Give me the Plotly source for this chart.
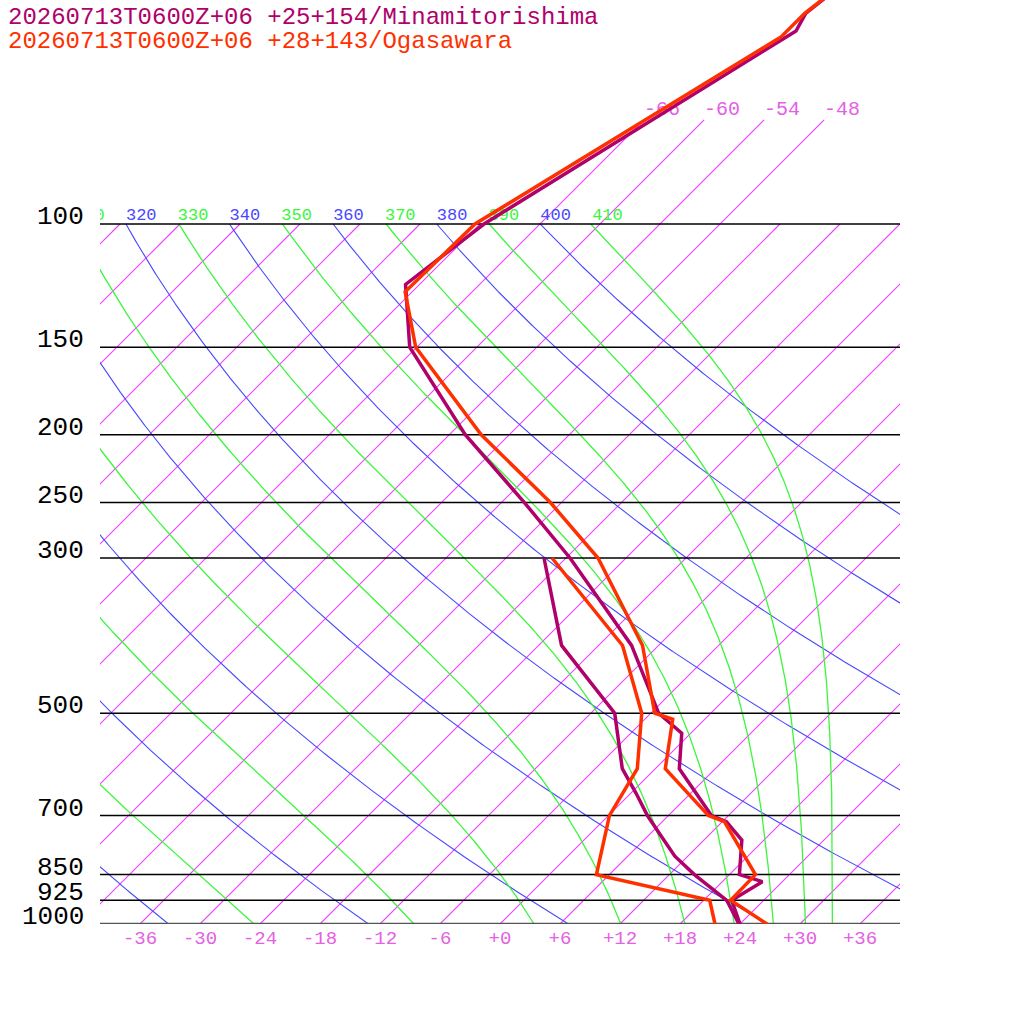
import numpy as np
import plotly.graph_objects as go

# ---------------- data ----------------
title_mina = "20260713T0600Z+06 +25+154/Minamitorishima"
title_oga = "20260713T0600Z+06 +28+143/Ogasawara"

mina_p = [1000, 925, 870, 850, 759, 714, 700, 600, 534, 500, 400, 300, 250, 200, 150, 122, 100, 53, 50, 40]
mina_t = [24.0, 20.8, 22.0, 19.0, 15.8, 12.4, 10.3, 2.4, -0.9, -5.2, -14.7, -29.6, -39.7, -52.4, -66.7, -73.4, -71.6, -59.7, -60.5, -58.7]
mina_td_p = [1000, 925, 850, 800, 750, 700, 650, 600, 500, 400, 300]
mina_td = [23.9, 20.3, 14.5, 10.7, 7.4, 3.9, 0.5, -3.3, -9.6, -21.7, -32.2]

oga_p = [1000, 925, 850, 714, 700, 600, 510, 500, 400, 300, 250, 200, 150, 125, 100, 54, 50, 40]
oga_t = [26.7, 20.7, 20.6, 12.2, 10.0, 1.0, -3.2, -5.6, -13.6, -26.8, -37.1, -50.8, -66.1, -72.7, -72.5, -60.6, -60.6, -58.7]
oga_td_p = [1000, 925, 850, 700, 600, 500, 400, 300]
oga_td = [21.5, 18.6, 4.7, 0.1, -1.8, -6.9, -15.6, -31.4]

isobars = [100, 150, 200, 250, 300, 500, 700, 850, 925, 1000]
isotherms = list(range(-108, 37, 6))
upper_isotherms = [-66, -60, -54, -48]
dry_thetas = list(range(240, 401, 20))
moist_thetas = list(range(250, 411, 20))
xticks = list(range(-36, 37, 6))

# ---------------- styling ----------------
FONT = "Liberation Mono"
C_MINA = "rgb(176,0,106)"
C_OGA = "rgb(255,48,0)"
C_ISO = "rgb(236,64,255)"
C_ISO_TXT = "rgb(228,96,228)"
C_DRY = "rgb(72,72,255)"
C_MOIST = "rgb(60,245,60)"
SKEW = 30.4
KAPPA = 0.2857
P_UPPER = 71.0
XMIN, XMAX = -40.0, 40.0


def skx(T, p):
    return np.asarray(T, dtype=float) + SKEW * np.log(1000.0 / np.asarray(p, dtype=float))


def theta_e(Tk, p):
    Tc = Tk - 273.15
    es = 6.112 * np.exp(17.67 * Tc / (Tc + 243.5))
    r = 622.0 * es / np.maximum(p - es, 1e-3)
    return Tk * (1000.0 / p) ** (0.2854 * (1 - 0.28e-3 * r)) * np.exp(
        (3.376 / Tk - 0.00254) * r * (1 + 0.81e-3 * r))


def moist_T(the, p):
    lo = np.full_like(p, 150.0)
    hi = np.full_like(p, 330.0)
    with np.errstate(over="ignore", invalid="ignore"):
        for _ in range(60):
            mid = 0.5 * (lo + hi)
            v = theta_e(mid, p)
            big = ~(v < the)
            hi = np.where(big, mid, hi)
            lo = np.where(big, lo, mid)
    return 0.5 * (lo + hi) - 273.15


def clip_curve(x, p):
    """Keep only the part of a curve that lies inside the skewed x range."""
    x = np.asarray(x, dtype=float)
    p = np.asarray(p, dtype=float)
    m = (x >= XMIN - 0.3) & (x <= XMAX + 0.3)
    if m.sum() < 2:
        return None, None
    idx = np.where(m)[0]
    lo, hi = max(idx[0] - 1, 0), min(idx[-1] + 1, len(x) - 1)
    return x[lo:hi + 1], p[lo:hi + 1]


fig = go.Figure()


def line(x, y, color, width):
    fig.add_trace(go.Scatter(x=list(x), y=list(y), mode="lines",
                             line=dict(color=color, width=width),
                             hoverinfo="skip", showlegend=False))


pp = np.geomspace(1000, 100, 500)

# isotherms
for T in isotherms:
    ptop = P_UPPER if T in upper_isotherms else 100
    p = np.geomspace(1000.0, ptop, 300)
    x, y = clip_curve(skx(T, p), p)
    if x is not None:
        line(x, y, C_ISO, 1.1)

# dry adiabats
for th in dry_thetas:
    T = th * (pp / 1000.0) ** KAPPA - 273.15
    x, y = clip_curve(skx(T, pp), pp)
    if x is not None:
        line(x, y, C_DRY, 1.1)

# moist adiabats
for th in moist_thetas:
    T = moist_T(th, pp)
    x, y = clip_curve(skx(T, pp), pp)
    if x is not None:
        line(x, y, C_MOIST, 1.3)

# isobars
for p in isobars:
    if p == 1000:
        line([XMIN, XMAX], [p, p], "rgb(85,85,85)", 2.5)
    else:
        line([XMIN, XMAX], [p, p], "rgb(0,0,0)", 1.5)

# adiabat labels at 100 hPa
lab_x, lab_t, lab_c = [], [], []
for th in sorted(dry_thetas + moist_thetas):
    if th < 300:
        continue
    lab_x.append(float(skx(th * 0.1 ** KAPPA - 273.15, 100)))
    lab_t.append(str(th))
    lab_c.append(C_DRY if th in dry_thetas else C_MOIST)
fig.add_trace(go.Scatter(x=lab_x, y=[100] * len(lab_x), mode="text", text=lab_t,
                         textposition="top right", cliponaxis=True,
                         textfont=dict(family=FONT, size=17, color=lab_c),
                         hoverinfo="skip", showlegend=False))

# upper isotherm labels
fig.add_trace(go.Scatter(x=[float(skx(T, P_UPPER)) for T in upper_isotherms],
                         y=[P_UPPER] * len(upper_isotherms), mode="text",
                         text=[str(T) for T in upper_isotherms],
                         textposition="top right", cliponaxis=True,
                         textfont=dict(family=FONT, size=20, color=C_ISO_TXT),
                         hoverinfo="skip", showlegend=False))

# soundings
line(skx(mina_td, mina_td_p), mina_td_p, C_MINA, 3.5)
line(skx(mina_t, mina_p), mina_p, C_MINA, 3.5)
line(skx(oga_td, oga_td_p), oga_td_p, C_OGA, 3.5)
line(skx(oga_t, oga_p), oga_p, C_OGA, 3.5)

# pressure labels
for p in isobars:
    fig.add_annotation(text=str(p), xref="paper", x=-0.0175, xanchor="right",
                       yref="y", y=np.log10(p), yanchor="bottom", yshift=-10,
                       showarrow=False, font=dict(family=FONT, size=26, color="#000000"))

# titles
fig.add_annotation(text=title_mina, xref="paper", x=(6 - 100) / 800, xanchor="left",
                   yref="paper", y=(924 - 17) / 924, yanchor="middle", showarrow=False,
                   font=dict(family=FONT, size=24, color=C_MINA))
fig.add_annotation(text=title_oga, xref="paper", x=(6 - 100) / 800, xanchor="left",
                   yref="paper", y=(924 - 41) / 924, yanchor="middle", showarrow=False,
                   font=dict(family=FONT, size=24, color=C_OGA))

fig.update_layout(
    width=1024, height=1024, autosize=False,
    margin=dict(l=100, r=124, t=0, b=100, pad=0),
    paper_bgcolor="white", plot_bgcolor="white",
    xaxis=dict(range=[XMIN, XMAX], showgrid=False, zeroline=False, showline=False,
               tickvals=xticks, ticktext=[f"{v:+d}" for v in xticks], ticks="",
               tickfont=dict(family=FONT, size=19, color=C_ISO_TXT)),
    yaxis=dict(type="log", range=[3, np.log10(1000 * np.exp(-924 / 304))],
               showgrid=False, zeroline=False, showline=False, showticklabels=False, ticks=""),
)

fig.write_html("out.html", config={"displayModeBar": False},
               post_script="document.body.style.margin='0px';")
